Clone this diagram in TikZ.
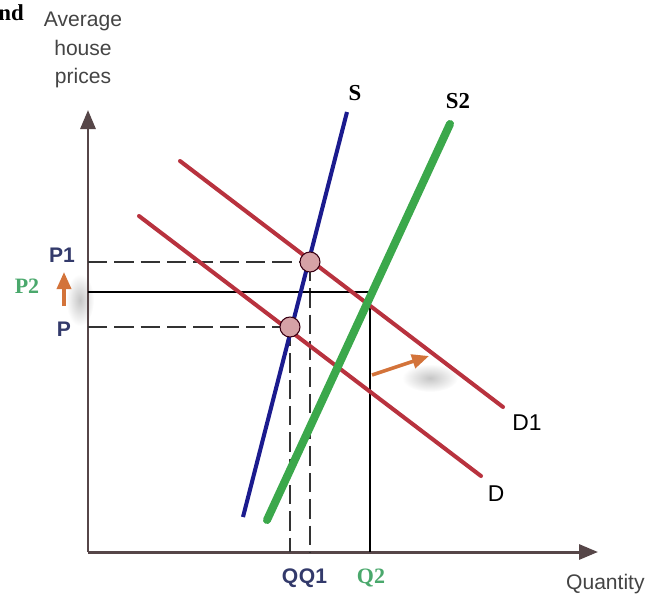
\documentclass[tikz,border=0pt]{standalone}
\usepackage{fontspec}
\setmainfont{Liberation Serif}
\setsansfont{Liberation Sans}
\usepackage{xcolor}
\definecolor{axisc}{HTML}{564648}
\definecolor{supc}{HTML}{1B1B8E}
\definecolor{suptwoc}{HTML}{3BA84B}
\definecolor{demc}{HTML}{B8323E}
\definecolor{shiftc}{HTML}{D3733A}
\definecolor{dotc}{HTML}{D6A2A6}
\definecolor{pricec}{HTML}{333A6B}
\definecolor{greenlab}{HTML}{4AA86C}
\definecolor{axislab}{HTML}{444444}
\usetikzlibrary{arrows.meta,calc}

\begin{document}
\begin{tikzpicture}[x=0.02cm,y=-0.02cm,
  axis/.style={draw=axisc,line width=1.7pt,-{Triangle[length=0.38cm,width=0.3cm]}},
  supline/.style={draw=supc,line width=2.3pt},
  suptwoline/.style={draw=suptwoc,line width=4.6pt,line cap=round},
  demline/.style={draw=demc,line width=2.3pt,line cap=round},
  guide/.style={draw=black!80,line width=0.8pt,dash pattern=on 11pt off 4pt},
  solidguide/.style={draw=black,line width=0.9pt},
  shiftarrow/.style={draw=shiftc,line width=2pt,-{Triangle[length=0.34cm,width=0.28cm]}},
  eqdot/.style={circle,draw=black!70!purple,line width=0.6pt,fill=dotc,minimum size=0.4cm,inner sep=0pt},
  pricelab/.style={font=\sffamily\bfseries\fontsize{12}{13}\selectfont,text=pricec,inner sep=0pt},
  greenlabel/.style={font=\bfseries\fontsize{12.5}{13}\selectfont,text=greenlab,inner sep=0pt},
  curvelab/.style={font=\bfseries\fontsize{13}{14}\selectfont,inner sep=0pt},
  demlab/.style={font=\sffamily\fontsize{13}{14}\selectfont,inner sep=0pt},
  axislabel/.style={font=\sffamily\fontsize{12}{16}\selectfont,text=axislab,align=center,inner sep=0pt},
  blur/.style={shading=radial,inner color=gray!45,outer color=white}]

\useasboundingbox (0,0) rectangle (646,599);

% soft shadows behind the shift arrows
\shade[blur] (430,378) ellipse (28 and 14);
\shade[blur] (80,300) ellipse (14 and 26);

% axes
\coordinate (origin) at (88,552);
\coordinate (ytip) at (88,110);
\coordinate (xtip) at (598,552);
\draw[axis] (origin) -- (ytip);
\draw[axis] (origin) -- (xtip);

% curves
\coordinate (s-lo) at (243,517);
\coordinate (s-hi) at (347,112);
\coordinate (stwo-lo) at (267,520);
\coordinate (stwo-hi) at (450,124);
\coordinate (done-lo) at (180,161);
\coordinate (done-hi) at (503,407);
\coordinate (d-lo) at (139,216);
\coordinate (d-hi) at (481,476);

% equilibrium points
\coordinate (eqone) at (310,262);
\coordinate (eqzero) at (290,327);
\coordinate (eqtwo) at (370,292);

% guides to the axes
\draw[guide] (origin |- eqone) -- (eqone);
\draw[guide] (origin |- eqzero) -- (eqzero);
\draw[guide] (eqone) -- (eqone |- origin);
\draw[guide] (eqzero) -- (eqzero |- origin);
\draw[solidguide] (origin |- eqtwo) -- (eqtwo) -- (eqtwo |- origin);

\draw[demline] (done-lo) -- (done-hi);
\draw[demline] (d-lo) -- (d-hi);
\draw[supline] (s-lo) -- (s-hi);
\draw[suptwoline] (stwo-lo) -- (stwo-hi);

\node[eqdot] (dotone) at (eqone) {};
\node[eqdot] (dotzero) at (eqzero) {};

% shifts
\coordinate (dshift-a) at (372,375);
\coordinate (dshift-b) at (429,356);
\draw[shiftarrow] (dshift-a) -- (dshift-b);
\coordinate (pshift-a) at (64,306);
\coordinate (pshift-b) at (64,272);
\draw[shiftarrow] (pshift-a) -- (pshift-b);

% labels
\node[font=\bfseries\fontsize{13}{14}\selectfont,anchor=west,inner sep=0pt] (cut) at (-2,13) {nd};
\node[axislabel] (ylab) at (83,50) {Average\\house\\prices};
\node[axislabel,anchor=east] (xlab) at (645,584) {Quantity};
\node[curvelab] (slab) at (355,93) {S};
\node[curvelab] (stwolab) at (458,101) {S2};
\node[demlab] (donelab) at (527,423) {D1};
\node[demlab] (dlab) at (496,494) {D};
\node[pricelab] (ponelab) at (62,255) {P1};
\node[pricelab] (pzerolab) at (64,329) {P};
\node[greenlabel] (ptwolab) at (27,286) {P2};
\node[pricelab] (qzerolab) at (290,578) {Q};
\node[pricelab] (qonelab) at (313,578) {Q1};
\node[greenlabel] (qtwolab) at (371,578) {Q2};
\end{tikzpicture}
\end{document}
